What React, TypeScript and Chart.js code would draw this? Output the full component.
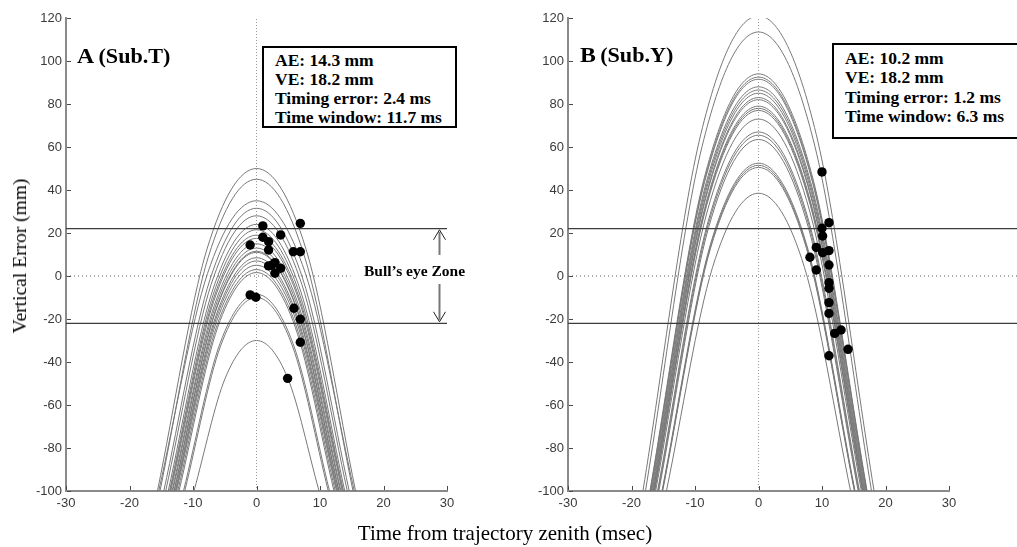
import React, { useEffect, useRef } from 'react';
import { Chart, registerables } from 'chart.js';

Chart.register(...registerables);

// ---------- axes ----------
const xTicks = [-30, -20, -10, 0, 10, 20, 30];
const yTicks = [-100, -80, -60, -40, -20, 0, 20, 40, 60, 80, 100, 120];
const zoneLimits = [22, -22];

// ---------- Panel A (Sub.T) ----------
// trajectory apex height (mm), half-time to reach -100 mm (ms), height at half that time (mm)
const peaksA = [50, 45, 35, 31.5, 28, 24, 21.5, 19, 17.5, 15, 13, 11.5, 11, 8.5, 7, 5, 3, 1.6, -8.5, -10, -30];
const landA = [15.6, 15.2, 15.4, 14.6, 14.3, 13.9, 13.7, 13.6, 13.5, 13.3, 13.2, 13.0, 12.95, 12.8, 12.7, 12.6, 12.4, 12.2, 11.5, 11.3, 9.85];
const midA = [12.5, 8.75, 1.25, -1.4, -4, -7, -8.9, -10.75, -11.9, -13.75, -15.25, -16.4, -16.75, -18.6, -19.75, -21.25, -22.75, -23.8, -31.4, -32.5, -47.5];
const hitTimeA = [1.0, 6.9, 1.0, 1.9, 3.8, -1.0, 1.9, 5.8, 6.9, 1.9, 2.9, 3.8, 2.9, 2.4, -1.0, -0.1, 5.9, 6.9, 6.9, 4.9];
const hitErrA = [23.3, 24.5, 18.0, 16.0, 19.1, 14.4, 12.1, 11.3, 11.3, 4.7, 6.2, 3.6, 1.3, 5.0, -8.8, -9.9, -15.0, -20.1, -30.8, -47.6];
const statsA = ['AE: 14.3 mm', 'VE: 18.2 mm', 'Timing error: 2.4 ms', 'Time window: 11.7 ms'];

// ---------- Panel B (Sub.Y) ----------
const peaksB = [121, 113.5, 94, 92.5, 91.5, 88, 86.5, 85, 83, 82, 79, 78, 77, 73, 67, 65.5, 63.5, 52.5, 51.5, 50.5, 38.5];
const landB = [18.2, 17.8, 17.1, 17.05, 17.0, 16.9, 16.8, 16.7, 16.6, 16.55, 16.45, 16.4, 16.35, 16.2, 15.9, 15.8, 15.7, 15.2, 15.15, 15.1, 14.5];
const midB = [65.75, 60.1, 45.5, 44.4, 43.6, 41, 39.9, 38.75, 37.25, 36.5, 34.25, 33.5, 32.75, 29.75, 25.25, 24.1, 22.6, 14.4, 13.6, 12.9, 3.9];
const hitTimeB = [10.0, 11.1, 10.0, 10.1, 9.1, 10.1, 11.1, 8.1, 11.1, 9.1, 11.1, 11.1, 11.1, 11.1, 12.0, 13.0, 14.1, 11.1];
const hitErrB = [48.4, 24.8, 22.2, 18.6, 13.3, 10.8, 11.8, 8.7, 5.1, 2.8, -3.1, -5.7, -12.4, -17.4, -26.7, -25.1, -34.1, -37.1];
const statsB = ['AE: 10.2 mm', 'VE: 18.2 mm', 'Timing error: 1.2 ms', 'Time window: 6.3 ms'];

// bull's eye zone arrows (panel A)
const arrowTime = 28.7;
const arrowUp = [9.8, 21.5];
const arrowDown = [-3.7, -21.3];

const H = 547;

type PanelProps = {
  left: number;
  width: number;
  padLeft: number;
  padRight: number;
  peaks: number[];
  land: number[];
  mid: number[];
  hitT: number[];
  hitE: number[];
  zeroEnd: number;
  refEnd: number;
  extendLines: boolean;
  arrows: boolean;
};

const tickMarks = {
  id: 'tickMarks',
  afterDraw(chart: any) {
    const { ctx, chartArea } = chart;
    const xs = chart.scales.x;
    const ys = chart.scales.y;
    ctx.save();
    ctx.strokeStyle = '#4a4a4a';
    ctx.lineWidth = 1;
    xs.ticks.forEach((t: any) => {
      const px = Math.round(xs.getPixelForValue(t.value)) + 0.5;
      ctx.beginPath();
      ctx.moveTo(px, chartArea.bottom - 1);
      ctx.lineTo(px, chartArea.bottom - 5);
      ctx.stroke();
    });
    ys.ticks.forEach((t: any) => {
      const py = Math.round(ys.getPixelForValue(t.value)) + 0.5;
      ctx.beginPath();
      ctx.moveTo(chartArea.left + 1, py);
      ctx.lineTo(chartArea.left + 5, py);
      ctx.stroke();
    });
    ctx.restore();
  },
};

function makeArrowPlugin(show: boolean) {
  return {
    id: 'zoneArrows',
    afterDatasetsDraw(chart: any) {
      if (!show) return;
      const { ctx } = chart;
      const xs = chart.scales.x;
      const ys = chart.scales.y;
      const px = Math.round(xs.getPixelForValue(arrowTime)) + 0.5;
      const draw = (span: number[]) => {
        const y0 = ys.getPixelForValue(span[0]);
        const y1 = ys.getPixelForValue(span[1]);
        const dir = y1 < y0 ? 1 : -1;
        ctx.save();
        ctx.strokeStyle = '#777';
        ctx.lineWidth = 2;
        ctx.beginPath();
        ctx.moveTo(px, y0);
        ctx.lineTo(px, y1 + dir * 2);
        ctx.stroke();
        ctx.strokeStyle = '#222';
        ctx.lineWidth = 1;
        ctx.beginPath();
        ctx.moveTo(px - 6, y1 + dir * 10);
        ctx.lineTo(px, y1);
        ctx.lineTo(px + 6, y1 + dir * 10);
        ctx.stroke();
        ctx.restore();
      };
      draw(arrowUp);
      draw(arrowDown);
    },
  };
}

function Panel(p: PanelProps) {
  const ref = useRef<HTMLCanvasElement>(null);
  useEffect(() => {
    const curves = p.peaks.map((pk, i) => ({
      type: 'scatter' as const,
      data: [
        { x: -p.land[i], y: -100 },
        { x: -p.land[i] / 2, y: p.mid[i] },
        { x: 0, y: pk },
        { x: p.land[i] / 2, y: p.mid[i] },
        { x: p.land[i], y: -100 },
      ],
      showLine: true,
      cubicInterpolationMode: 'monotone' as const,
      borderColor: '#787878',
      borderWidth: 1,
      pointRadius: 0,
      order: 3,
    }));
    const hLine = (yv: number, end: number, color: string, dash: number[], w: number) => ({
      type: 'scatter' as const,
      data: [
        { x: -30, y: yv },
        { x: end, y: yv },
      ],
      showLine: true,
      borderColor: color,
      borderWidth: w,
      borderDash: dash,
      pointRadius: 0,
      clip: p.extendLines ? (false as any) : undefined,
      order: 2,
    });
    const datasets: any[] = [
      ...curves,
      ...zoneLimits.map((z) => hLine(z, p.refEnd, '#3c3c3c', [], 1.2)),
      hLine(0, p.zeroEnd, '#555', [1, 3], 1),
      {
        type: 'scatter',
        data: [
          { x: 0, y: -100 },
          { x: 0, y: 120 },
        ],
        showLine: true,
        borderColor: '#9a9a9a',
        borderWidth: 1,
        borderDash: [1, 2],
        pointRadius: 0,
        order: 2,
      },
      {
        type: 'scatter',
        data: p.hitT.map((t, i) => ({ x: t, y: p.hitE[i] })),
        showLine: false,
        pointRadius: 4.7,
        pointBackgroundColor: '#000',
        pointBorderWidth: 0,
        order: 0,
      },
    ];
    const tickFont = { family: "'Liberation Sans', Arial, sans-serif", size: 13 };
    const chart = new Chart(ref.current as HTMLCanvasElement, {
      type: 'scatter',
      data: { datasets },
      options: {
        responsive: false,
        animation: false,
        events: [],
        layout: { padding: { left: p.padLeft, top: 18, right: p.padRight, bottom: 0 } },
        plugins: { legend: { display: false }, tooltip: { enabled: false } },
        scales: {
          x: {
            type: 'linear',
            min: -30,
            max: 30,
            grid: { display: false, drawTicks: false },
            border: { display: true, color: '#8a8a8a', width: 2 },
            ticks: { font: tickFont, color: '#3a3a3a', padding: 5, maxRotation: 0, autoSkip: false },
            afterBuildTicks: (s: any) => {
              s.ticks = xTicks.map((v) => ({ value: v }));
            },
            afterFit: (s: any) => {
              s.height = 56;
            },
          },
          y: {
            type: 'linear',
            min: -100,
            max: 120,
            grid: { display: false, drawTicks: false },
            border: { display: true, color: '#8a8a8a', width: 2 },
            ticks: { font: tickFont, color: '#3a3a3a', padding: 4, autoSkip: false },
            afterBuildTicks: (s: any) => {
              s.ticks = yTicks.map((v) => ({ value: v }));
            },
            afterFit: (s: any) => {
              s.width = 30;
            },
          },
        },
      } as any,
      plugins: [tickMarks, makeArrowPlugin(p.arrows)],
    });
    return () => chart.destroy();
  }, []);
  return (
    <canvas
      ref={ref}
      width={p.width}
      height={H}
      style={{ position: 'absolute', left: p.left, top: 0, width: p.width, height: H }}
    />
  );
}

const serif = "'Liberation Serif', 'Times New Roman', serif";

function StatBox(props: { lines: string[]; left: number; top: number; width: number; height: number; padTop: number; lh: number }) {
  return (
    <div
      style={{
        position: 'absolute',
        left: props.left,
        top: props.top,
        width: props.width,
        height: props.height,
        boxSizing: 'border-box',
        border: '2px solid #000',
        background: '#fff',
        paddingLeft: 11,
        paddingTop: props.padTop,
        fontFamily: serif,
        fontWeight: 'bold',
        fontSize: 17.5,
        lineHeight: props.lh + 'px',
        whiteSpace: 'nowrap',
        color: '#000',
      }}
    >
      {props.lines.map((l, i) => (
        <div key={i}>{l}</div>
      ))}
    </div>
  );
}

function PanelTitle(props: { letter: string; sub: string; left: number; top: number }) {
  return (
    <div
      style={{
        position: 'absolute',
        left: props.left,
        top: props.top,
        fontFamily: serif,
        fontWeight: 'bold',
        lineHeight: '23px',
        whiteSpace: 'nowrap',
        transform: 'scaleX(1.08)',
        transformOrigin: 'left top',
        color: '#000',
      }}
    >
      <span style={{ fontSize: 22 }}>{props.letter}</span>
      <span style={{ fontSize: 20.5, marginLeft: 4 }}>{props.sub}</span>
    </div>
  );
}

export default function App() {
  return (
    <div
      style={{
        position: 'absolute',
        left: 0,
        top: 0,
        width: 1017,
        height: H,
        overflow: 'hidden',
        background: '#fff',
      }}
    >
      <Panel
        left={0}
        width={500}
        padLeft={36}
        padRight={53}
        peaks={peaksA}
        land={landA}
        mid={midA}
        hitT={hitTimeA}
        hitE={hitErrA}
        zeroEnd={14.8}
        refEnd={30}
        extendLines={false}
        arrows={true}
      />
      <Panel
        left={500}
        width={517}
        padLeft={38}
        padRight={68}
        peaks={peaksB}
        land={landB}
        mid={midB}
        hitT={hitTimeB}
        hitE={hitErrB}
        zeroEnd={42}
        refEnd={42}
        extendLines={true}
        arrows={false}
      />
      <PanelTitle letter="A" sub="(Sub.T)" left={77} top={44} />
      <PanelTitle letter="B" sub="(Sub.Y)" left={580} top={43} />
      <StatBox lines={statsA} left={262} top={46} width={195} height={82} padTop={3} lh={19} />
      <StatBox lines={statsB} left={832} top={43} width={220} height={96} padTop={4} lh={19.4} />
      <div
        style={{
          position: 'absolute',
          left: 364,
          top: 263,
          fontFamily: serif,
          fontWeight: 'bold',
          fontSize: 15.5,
          lineHeight: '15.5px',
          whiteSpace: 'nowrap',
          color: '#000',
        }}
      >
        Bull’s eye Zone
      </div>
      <div
        style={{
          position: 'absolute',
          left: 205,
          top: 523,
          width: 600,
          textAlign: 'center',
          fontFamily: serif,
          fontSize: 21,
          lineHeight: '21px',
          whiteSpace: 'nowrap',
          color: '#000',
        }}
      >
        Time from trajectory zenith (msec)
      </div>
      <div
        style={{
          position: 'absolute',
          left: 20,
          top: 256,
          transform: 'translate(-50%, -50%) rotate(-90deg)',
          fontFamily: serif,
          fontSize: 19.5,
          lineHeight: '20px',
          whiteSpace: 'nowrap',
          color: '#000',
        }}
      >
        Vertical Error (mm)
      </div>
    </div>
  );
}
